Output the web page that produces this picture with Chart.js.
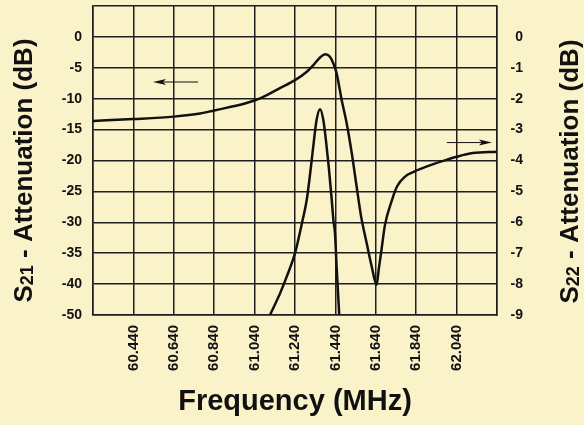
<!DOCTYPE html>
<html>
<head>
<meta charset="utf-8">
<script src="https://cdn.jsdelivr.net/npm/chart.js@4.4.0/dist/chart.umd.min.js"></script>
<style>
  html, body { margin: 0; padding: 0; background: #faf2c8; }
</style>
</head>
<body>
<canvas id="myChart" width="584" height="425"></canvas>
<script>
// frequency axis (MHz)
var freqTicks = [60.24, 60.44, 60.64, 60.84, 61.04, 61.24, 61.44, 61.64, 61.84, 62.04, 62.24];
var freqLabels = ['', '60.440', '60.640', '60.840', '61.040', '61.240', '61.440', '61.640', '61.840', '62.040', ''];

// left axis (S21, dB)
var s21Ticks = [-45, -40, -35, -30, -25, -20, -15, -10, -5, 0, 5];
var s21Labels = ['-50', '-40', '-35', '-30', '-25', '-20', '-15', '-10', '-5', '0', ''];

// right axis (S22, dB)
var s22Ticks = [-9, -8, -7, -6, -5, -4, -3, -2, -1, 0, 1];
var s22Labels = ['-9', '-8', '-7', '-6', '-5', '-4', '-3', '-2', '-1', '0', ''];

// S21 curve (narrow passband)
var s21Freq = [61.116, 61.166, 61.199, 61.24, 61.278, 61.298, 61.319, 61.334, 61.347, 61.364,
               61.38, 61.393, 61.407, 61.422, 61.43, 61.438, 61.446, 61.459];
var s21Val  = [-45, -41.5, -38.8, -35.0, -29.6, -26.4, -21.0, -16.7, -13.4, -11.7,
               -13.4, -16.7, -21.0, -26.4, -29.6, -31.8, -37.2, -45];

// S22 curve (right axis)
var s22Freq = [60.24, 60.44, 60.64, 60.77, 60.84, 61.0, 61.07, 61.17, 61.24, 61.3, 61.33, 61.365,
               61.39, 61.413, 61.43, 61.446, 61.471, 61.496, 61.521, 61.545, 61.567, 61.595, 61.62,
               61.644, 61.655, 61.668, 61.685, 61.72, 61.745, 61.785, 61.83, 61.89, 61.99, 62.04, 62.12, 62.24];
var s22Val  = [-2.72, -2.66, -2.58, -2.48, -2.38, -2.14, -1.98, -1.64, -1.40, -1.12, -0.92, -0.66,
               -0.56, -0.64, -0.86, -1.18, -2.04, -2.80, -3.76, -4.84, -5.80, -6.68, -7.44,
               -8.02, -7.50, -6.90, -6.10, -5.28, -4.84, -4.52, -4.36, -4.20, -3.98, -3.88, -3.76, -3.72];

// arrows: [fromFreq, toFreq, value, axis]
var arrows = [
  [60.76, 60.537, -7.3, 'y'],
  [61.992, 62.215, -3.42, 'y2']
];

var fam = '"Liberation Sans", Arial, Helvetica, sans-serif';
var ink = '#111';
var gridCol = '#1e1e1e';

function pts(xs, ys) {
  return xs.map(function (x, i) { return { x: x, y: ys[i] }; });
}

function drawVTitle(ctx, cx, cy, sub) {
  var big = 'bold 26px ' + fam, small = 'bold 18px ' + fam;
  var pieces = [['S', big, 0], [sub, small, 1], [' - Attenuation (dB)', big, 0]];
  ctx.save();
  ctx.translate(cx, cy);
  ctx.rotate(-Math.PI / 2);
  var total = 0;
  pieces.forEach(function (p) { ctx.font = p[1]; total += ctx.measureText(p[0]).width; });
  var x = -total / 2;
  ctx.fillStyle = ink;
  ctx.textBaseline = 'alphabetic';
  pieces.forEach(function (p) {
    ctx.font = p[1];
    ctx.fillText(p[0], x, 9 + p[2]);
    x += ctx.measureText(p[0]).width;
  });
  ctx.restore();
}

var extras = {
  id: 'extras',
  beforeDraw: function (chart) {
    var ctx = chart.ctx;
    ctx.save();
    ctx.fillStyle = '#faf2c8';
    ctx.fillRect(0, 0, chart.width, chart.height);
    ctx.restore();
  },
  afterDatasetsDraw: function (chart) {
    var ctx = chart.ctx, xs = chart.scales.x;
    arrows.forEach(function (a) {
      var ys = chart.scales[a[3]];
      var x0 = xs.getPixelForValue(a[0]), x1 = xs.getPixelForValue(a[1]);
      var y = ys.getPixelForValue(a[2]);
      var dir = x1 > x0 ? 1 : -1;
      ctx.save();
      ctx.strokeStyle = ink;
      ctx.fillStyle = ink;
      ctx.lineWidth = 1;
      ctx.beginPath();
      ctx.moveTo(x0, y);
      ctx.lineTo(x1 - dir * 6, y);
      ctx.stroke();
      ctx.beginPath();
      ctx.moveTo(x1, y);
      ctx.lineTo(x1 - dir * 13, y - 3);
      ctx.lineTo(x1 - dir * 10, y);
      ctx.lineTo(x1 - dir * 13, y + 3);
      ctx.closePath();
      ctx.fill();
      ctx.restore();
    });
  },
  afterDraw: function (chart) {
    var ctx = chart.ctx, a = chart.chartArea;
    var cy = (a.top + a.bottom) / 2 + 10;
    drawVTitle(ctx, 22.5, cy, '21');
    drawVTitle(ctx, 568.5, cy + 1, '22');
  }
};

var ctx = document.getElementById('myChart').getContext('2d');
var myChart = new Chart(ctx, {
  type: 'line',
  data: {
    datasets: [{
      label: 'S21',
      data: pts(s21Freq, s21Val),
      yAxisID: 'y',
      borderColor: ink,
      borderWidth: 2.5,
      pointRadius: 0,
      cubicInterpolationMode: 'monotone',
      fill: false
    }, {
      label: 'S22',
      data: pts(s22Freq, s22Val),
      yAxisID: 'y2',
      borderColor: ink,
      borderWidth: 2.5,
      pointRadius: 0,
      cubicInterpolationMode: 'monotone',
      fill: false
    }]
  },
  options: {
    responsive: false,
    animation: false,
    layout: { padding: { top: 6, left: 0, right: 61, bottom: 0 } },
    plugins: { legend: { display: false }, tooltip: { enabled: false } },
    scales: {
      x: {
        type: 'linear',
        min: 60.24,
        max: 62.24,
        afterBuildTicks: function (s) { s.ticks = freqTicks.map(function (v) { return { value: v }; }); },
        afterFit: function (s) { s.height = 110; s.paddingLeft = 0; s.paddingRight = 0; },
        grid: { color: gridCol, lineWidth: 1.5, drawTicks: false },
        border: { color: gridCol, width: 1.5 },
        ticks: {
          autoSkip: false, maxRotation: 90, minRotation: 90, padding: 10, color: ink,
          font: { family: fam, size: 15, weight: 'bold' },
          callback: function (v, i) { return freqLabels[i]; }
        },
        title: {
          display: true, text: 'Frequency (MHz)', color: ink,
          font: { family: fam, size: 29, weight: 'bold' },
          padding: { top: 0, bottom: 6 }
        }
      },
      y: {
        position: 'left',
        min: -45,
        max: 5,
        afterBuildTicks: function (s) { s.ticks = s21Ticks.map(function (v) { return { value: v }; }); },
        afterFit: function (s) { s.width = 93; s.paddingTop = 0; s.paddingBottom = 0; },
        grid: { color: gridCol, lineWidth: 1.5, drawTicks: false },
        border: { color: gridCol, width: 1.5 },
        ticks: {
          padding: 11, color: ink,
          font: { family: fam, size: 14, weight: 'bold' },
          callback: function (v, i) { return s21Labels[i]; }
        }
      },
      y2: {
        position: 'right',
        min: -9,
        max: 1,
        afterBuildTicks: function (s) { s.ticks = s22Ticks.map(function (v) { return { value: v }; }); },
        afterFit: function (s) { s.width = 26; s.paddingTop = 0; s.paddingBottom = 0; },
        grid: { display: false, drawTicks: false },
        border: { color: gridCol, width: 1.5 },
        ticks: {
          padding: 13, crossAlign: 'far', color: ink,
          font: { family: fam, size: 14, weight: 'bold' },
          callback: function (v, i) { return s22Labels[i]; }
        }
      }
    }
  },
  plugins: [extras]
});
</script>
</body>
</html>
